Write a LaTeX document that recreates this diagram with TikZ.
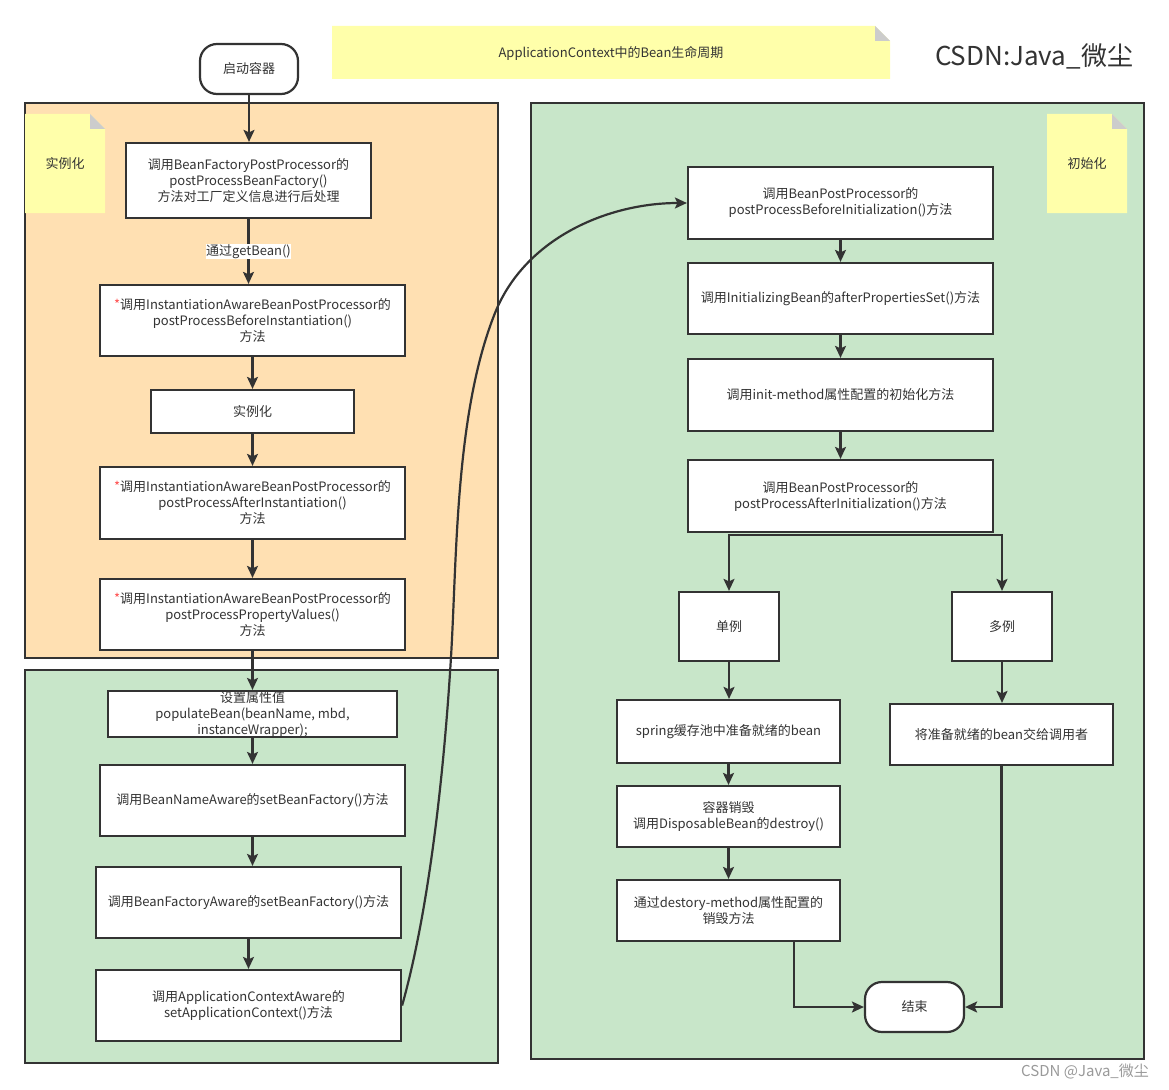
\documentclass[tikz,border=0pt]{standalone}
\usepackage{fontspec}
\setmainfont{Noto Sans CJK SC}
\usetikzlibrary{arrows.meta}
\definecolor{edge}{HTML}{333333}
\definecolor{txt}{HTML}{333333}
\definecolor{orangebg}{HTML}{FFE0B2}
\definecolor{greenbg}{HTML}{C8E6C9}
\definecolor{notey}{HTML}{FFFFAA}
\definecolor{foldc}{HTML}{CCCCCC}
\definecolor{starc}{HTML}{FF5050}
\definecolor{wmark}{HTML}{9A9A9A}
\begin{document}
\begin{tikzpicture}[x=1pt, y=-1pt,
  font=\fontsize{13}{16}\selectfont, text=txt,
  box/.style={draw=edge, fill=white, line width=2.2pt, inner sep=1pt, align=center},
  term/.style={box, rounded corners=17pt},
  cont/.style={draw=edge, line width=2.2pt},
  arr/.style={draw=edge, line width=2.2pt, -{Stealth[length=12pt,width=11pt,inset=2.5pt]}},
  notetext/.style={align=center}]
\path[fill=white, use as bounding box] (0,0) rectangle (1169,1089);

% containers
\path[cont, fill=orangebg] (25,103) rectangle (498,658);
\path[cont, fill=greenbg] (25,670) rectangle (498,1063);
\path[cont, fill=greenbg] (531,103) rectangle (1144,1059);

% notes
\fill[notey] (332,26) -- (875,26) -- (890,41) -- (890,79) -- (332,79) -- cycle;
\fill[foldc] (875,26) -- (890,41) -- (875,41) -- cycle;
\node[notetext] (title) at (611,53) {ApplicationContext中的Bean生命周期};

\fill[notey] (25,114) -- (90,114) -- (105,129) -- (105,213) -- (25,213) -- cycle;
\fill[foldc] (90,114) -- (105,129) -- (90,129) -- cycle;
\node[notetext] (n1) at (65,164) {实例化};

\fill[notey] (1047,114) -- (1112,114) -- (1127,129) -- (1127,213) -- (1047,213) -- cycle;
\fill[foldc] (1112,114) -- (1127,129) -- (1112,129) -- cycle;
\node[notetext] (n2) at (1087,164) {初始化};

\node[font=\fontsize{26}{30}\selectfont] (brand) at (1034,56) {CSDN:Java\_微尘};
\node[font=\fontsize{15}{18}\selectfont, text=wmark] (wm) at (1085,1071) {CSDN @Java\_微尘};

% left column
\node[term, minimum width=98pt, minimum height=50pt] (start) at (249,69) {启动容器};
\node[box, minimum width=245pt, minimum height=75pt] (b1) at (248.5,180.5)
  {调用BeanFactoryPostProcessor的\\postProcessBeanFactory()\\方法对工厂定义信息进行后处理};
\node[box, minimum width=305pt, minimum height=71pt] (b2) at (252.5,320.5)
  {{\color{starc}*}调用InstantiationAwareBeanPostProcessor的\\postProcessBeforeInstantiation()\\方法};
\node[box, minimum width=203pt, minimum height=43pt] (b3) at (252.5,411.5) {实例化};
\node[box, minimum width=305pt, minimum height=72pt] (b4) at (252.5,503)
  {{\color{starc}*}调用InstantiationAwareBeanPostProcessor的\\postProcessAfterInstantiation()\\方法};
\node[box, minimum width=305pt, minimum height=71pt] (b5) at (252.5,614.5)
  {{\color{starc}*}调用InstantiationAwareBeanPostProcessor的\\postProcessPropertyValues()\\方法};
\node[box, minimum width=289pt, minimum height=46pt] (b6) at (252.5,714) {};
\node[align=center, inner sep=0pt] (b6t) at (252.5,715)
  {设置属性值\\populateBean(beanName, mbd,\\instanceWrapper);};
\node[box, minimum width=305pt, minimum height=71pt] (b7) at (252.5,800.5)
  {调用BeanNameAware的setBeanFactory()方法};
\node[box, minimum width=305pt, minimum height=71pt] (b8) at (248.5,902.5)
  {调用BeanFactoryAware的setBeanFactory()方法};
\node[box, minimum width=305pt, minimum height=71pt] (b9) at (248.5,1005.5)
  {调用ApplicationContextAware的\\setApplicationContext()方法};

% right column
\node[box, minimum width=305pt, minimum height=72pt] (r1) at (840.5,203)
  {调用BeanPostProcessor的\\postProcessBeforeInitialization()方法};
\node[box, minimum width=305pt, minimum height=71pt] (r2) at (840.5,298.5)
  {调用InitializingBean的afterPropertiesSet()方法};
\node[box, minimum width=305pt, minimum height=72pt] (r3) at (840.5,395)
  {调用init-method属性配置的初始化方法};
\node[box, minimum width=305pt, minimum height=72pt] (r4) at (840.5,496)
  {调用BeanPostProcessor的\\postProcessAfterInitialization()方法};
\node[box, minimum width=100pt, minimum height=69pt] (dl) at (729,626.5) {单例};
\node[box, minimum width=100pt, minimum height=69pt] (dd) at (1002,626.5) {多例};
\node[box, minimum width=223pt, minimum height=63pt] (s1) at (728.5,731.5) {spring缓存池中准备就绪的bean};
\node[box, minimum width=223pt, minimum height=61pt] (m1) at (1001.5,734.5) {将准备就绪的bean交给调用者};
\node[box, minimum width=223pt, minimum height=61pt] (s2) at (728.5,816.5) {容器销毁\\调用DisposableBean的destroy()};
\node[box, minimum width=223pt, minimum height=61pt] (s3) at (728.5,910.5) {通过destory-method属性配置的\\销毁方法};
\node[term, minimum width=99pt, minimum height=50pt] (end) at (914.5,1007) {结束};

% connectors left
\draw[arr] (start.south) -- (start.south |- b1.north);
\draw[arr] (b1.south) -- node[fill=white, inner sep=0.5pt] (lbl) {通过getBean()} (b1.south |- b2.north);
\draw[arr] (b2.south) -- (b2.south |- b3.north);
\draw[arr] (b3.south) -- (b3.south |- b4.north);
\draw[arr] (b4.south) -- (b4.south |- b5.north);
\draw[arr] (b5.south) -- (b5.south |- b6.north);
\draw[arr] (b6.south) -- (b6.south |- b7.north);
\draw[arr] (b7.south) -- (b7.south |- b8.north);
\draw[arr] (b8.south) -- (b8.south |- b9.north);

% long curve
\draw[arr] (b9.east) .. controls (431,903) and (445,757) .. (451,657)
  .. controls (457,557) and (455,413) .. (495,313)
  .. controls (525,238) and (608,203) .. (r1.west);

% connectors right
\draw[arr] (r1.south) -- (r1.south |- r2.north);
\draw[arr] (r2.south) -- (r2.south |- r3.north);
\draw[arr] (r3.south) -- (r3.south |- r4.north);
\draw[arr] ([yshift=-1.5pt]r4.south) -| (dl.north);
\draw[arr] ([yshift=-1.5pt]r4.south) -| (dd.north);
\draw[arr] (dl.south) -- (dl.south |- s1.north);
\draw[arr] (dd.south) -- (dd.south |- m1.north);
\draw[arr] (s1.south) -- (s1.south |- s2.north);
\draw[arr] (s2.south) -- (s2.south |- s3.north);
\draw[arr] ([xshift=65.5pt]s3.south) |- (end.west);
\draw[arr] (m1.south) |- (end.east);
\end{tikzpicture}
\end{document}
